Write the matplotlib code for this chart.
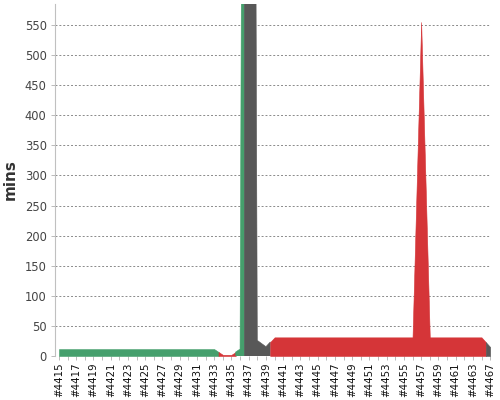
import matplotlib
matplotlib.use("Agg")
import matplotlib.pyplot as plt
import numpy as np

# build numbers (category axis), one value per build in minutes
builds = list(range(4415, 4464)) + [4465, 4467]
durations = ([11.5] * 19 + [2, 2, 11.5, 4000, 26, 15.5]
             + [31] * 17 + [555] + [31] * 7 + [15])
results = (["SUCCESS"] * 19 + ["FAILURE"] * 2 + ["SUCCESS"] + ["ABORTED"] * 3
           + ["FAILURE"] * 25 + ["ABORTED"])

COLORS = {"SUCCESS": "#459F6C", "FAILURE": "#D53538", "ABORTED": "#585858"}

x = np.arange(len(builds))
y = np.array(durations, dtype=float)

fig = plt.figure(figsize=(5, 4), dpi=100)
ax = fig.add_axes([0.11, 0.11, 0.872, 0.88])

# each build colours the area from the midpoint before it to the midpoint after it
i = 0
n = len(builds)
while i < n:
    j = i
    while j + 1 < n and results[j + 1] == results[i]:
        j += 1
    left = max(i - 0.5, 0)
    right = min(j + 0.5, n - 1)
    xs = np.concatenate([[left], x[i:j + 1], [right]])
    ys = np.interp(xs, x, y)
    c = COLORS[results[i]]
    ax.fill_between(xs, 0, ys, facecolor=c, edgecolor=c, linewidth=0.4, zorder=2)
    i = j + 1

ax.set_xlim(-0.46, 50.1)
ax.set_ylim(0, 585)

ax.set_yticks(np.arange(0, 551, 50))
for v in np.arange(50, 551, 50):
    ax.axhline(v, color="#8a8a8a", lw=0.7, ls=(0, (2, 2)), zorder=1)

ax.set_xticks(x)
ax.set_xticklabels(["#%d" % b if k % 2 == 0 else "" for k, b in enumerate(builds)],
                   rotation=90, fontsize=7.4, color="#111111")
ax.tick_params(axis="x", length=3, width=0.6, color="#b0b0b0", pad=1.5)
ax.tick_params(axis="y", length=3, width=0.6, color="#b0b0b0", labelsize=8.3,
               labelcolor="#444444", pad=3)

for s in ["top", "right", "bottom"]:
    ax.spines[s].set_visible(False)
ax.spines["left"].set_color("#c0c0c0")
ax.spines["left"].set_linewidth(0.8)

ax.set_ylabel("mins", fontsize=11, fontweight="bold", color="#333333", labelpad=5)

fig.savefig("out.png", dpi=100)
